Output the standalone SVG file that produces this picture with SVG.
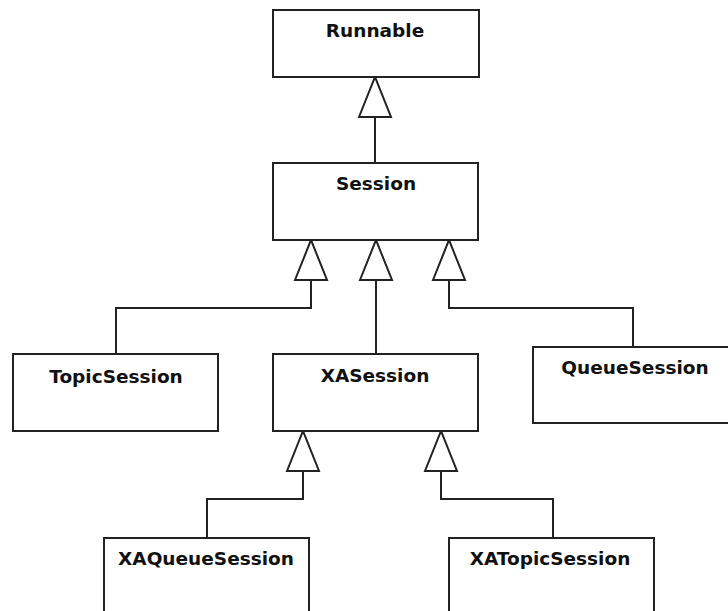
<svg xmlns="http://www.w3.org/2000/svg" width="728" height="611" viewBox="0 0 728 611">
  <defs>
    <style>
      .box { fill: #ffffff; stroke: #222222; stroke-width: 2; }
      .lbl { font-family: "DejaVu Sans", Verdana, sans-serif; font-weight: bold; font-size: 18.5px; fill: #111111; text-anchor: middle; }
      .conn { fill: none; stroke: #222222; stroke-width: 2; }
    </style>
    <marker id="gen" markerUnits="userSpaceOnUse" viewBox="-2 -2 44 36" refX="40" refY="16" markerWidth="44" markerHeight="36" orient="auto" overflow="visible">
      <path d="M0,0 L40,16 L0,32 Z" fill="#ffffff" stroke="#222222" stroke-width="2" stroke-linejoin="miter"/>
    </marker>
  </defs>
  <rect width="728" height="611" fill="#ffffff"/>

  <g id="connectors">
    <path class="conn" d="M375,163 L375,77" marker-end="url(#gen)"/>
    <path class="conn" d="M116,354 V308 H311 V240" marker-end="url(#gen)"/>
    <path class="conn" d="M376,354 V240" marker-end="url(#gen)"/>
    <path class="conn" d="M633,347 V308 H449 V240" marker-end="url(#gen)"/>
    <path class="conn" d="M207,538 V499 H303 V431" marker-end="url(#gen)"/>
    <path class="conn" d="M553,538 V499 H441 V431" marker-end="url(#gen)"/>
  </g>

  <g id="Runnable">
    <rect class="box" x="273" y="10" width="206" height="67"/>
    <text class="lbl" x="375" y="37">Runnable</text>
  </g>
  <g id="Session">
    <rect class="box" x="273" y="163" width="205" height="77"/>
    <text class="lbl" x="376" y="190">Session</text>
  </g>
  <g id="TopicSession">
    <rect class="box" x="13" y="354" width="205" height="77"/>
    <text class="lbl" x="116" y="383">TopicSession</text>
  </g>
  <g id="XASession">
    <rect class="box" x="273" y="354" width="205" height="77"/>
    <text class="lbl" x="375" y="382">XASession</text>
  </g>
  <g id="QueueSession">
    <rect class="box" x="533" y="347" width="210" height="76"/>
    <text class="lbl" x="635" y="374">QueueSession</text>
  </g>
  <g id="XAQueueSession">
    <rect class="box" x="104" y="538" width="205" height="90"/>
    <text class="lbl" x="206" y="565">XAQueueSession</text>
  </g>
  <g id="XATopicSession">
    <rect class="box" x="449" y="538" width="205" height="90"/>
    <text class="lbl" x="550" y="565">XATopicSession</text>
  </g>
</svg>
